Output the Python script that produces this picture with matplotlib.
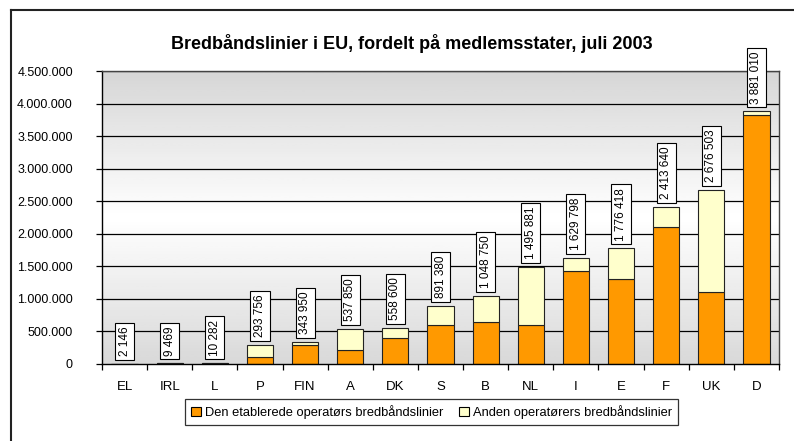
import matplotlib
matplotlib.use("Agg")
import matplotlib.pyplot as plt
import numpy as np
from matplotlib.lines import Line2D
from matplotlib.patches import Patch
from matplotlib.ticker import FuncFormatter, FixedLocator

plt.rcParams['font.family'] = ['Liberation Sans', 'DejaVu Sans']

countries = ["EL", "IRL", "L", "P", "FIN", "A", "DK", "S", "B", "NL", "I", "E", "F", "UK", "D"]
totals = [2146, 9469, 10282, 293756, 343950, 537850, 558600, 891380, 1048750,
          1495881, 1629798, 1776418, 2413640, 2676503, 3881010]
incumbent = [2000, 8000, 9000, 112000, 290000, 215000, 394000, 593000, 640000,
             595000, 1431000, 1299000, 2097000, 1100000, 3820000]
others = [t - i for t, i in zip(totals, incumbent)]

title = "Bredbåndslinier i EU, fordelt på medlemsstater, juli 2003"
legend_labels = ["Den etablerede operatørs bredbåndslinier", "Anden operatørers bredbåndslinier"]

W, H = 794, 441
fig = plt.figure(figsize=(W / 100, H / 100), dpi=100)
ax = fig.add_axes([102 / W, (H - 364) / H, (779 - 102) / W, (364 - 71) / H])

x = np.arange(len(countries))
ymax = 4500000
ax.set_xlim(-0.5, len(countries) - 0.5)
ax.set_ylim(0, ymax)

# gradient background gray-white-gray
grad = np.concatenate([np.linspace(0.84, 1.0, 50), np.linspace(1.0, 0.85, 50)]).reshape(-1, 1)
ax.imshow(grad, cmap='gray', vmin=0, vmax=1, aspect='auto',
          extent=[-0.5, len(countries) - 0.5, 0, ymax], origin='upper', zorder=0)

for yv in range(500000, ymax + 1, 500000):
    ax.axhline(yv, color='black', lw=0.9, zorder=1)

bw = 0.58
ax.bar(x, incumbent, bw, color='#FF9900', edgecolor='#222222', lw=0.8, zorder=2)
ax.bar(x, others, bw, bottom=incumbent, color='#FFFFCC', edgecolor='#222222', lw=0.8, zorder=2)

for xi, t in zip(x, totals):
    lab = f"{t:,}".replace(",", " ")
    ax.annotate(lab, (xi, t), xytext=(0, 5.5), textcoords='offset points',
                rotation=90, ha='center', va='bottom', fontsize=8.5,
                bbox=dict(boxstyle='square,pad=0.3', fc='white', ec='black', lw=0.8),
                annotation_clip=False, zorder=5)

ax.yaxis.set_major_locator(FixedLocator(range(0, ymax + 1, 500000)))
ax.yaxis.set_major_formatter(FuncFormatter(lambda v, p: f"{int(v):,}".replace(",", ".")))
ax.tick_params(axis='y', direction='out', length=4, width=0.9, pad=17, labelsize=9)

ax.set_xticks(x)
ax.set_xticklabels(countries, fontsize=9.5)
ax.set_xticks(np.arange(-0.5, len(countries), 1), minor=True)
ax.tick_params(axis='x', which='major', length=0, pad=12)
ax.tick_params(axis='x', which='minor', direction='out', length=4, width=0.9)

for s in ['left', 'bottom']:
    ax.spines[s].set_color('black')
    ax.spines[s].set_linewidth(1.0)
for s in ['top', 'right']:
    ax.spines[s].set_color('#444444')
    ax.spines[s].set_linewidth(1.0)

fig.text(412 / W, 1 - 49 / H, title, ha='center', va='baseline', fontsize=13, fontweight='bold')

handles = [Patch(fc='#FF9900', ec='black', lw=0.8), Patch(fc='#FFFFCC', ec='black', lw=0.8)]
leg = fig.legend(handles, legend_labels, loc='center', bbox_to_anchor=(431.5 / W, 1 - 412 / H),
                 ncol=2, fontsize=9.3, frameon=True, fancybox=False, shadow=False,
                 handlelength=0.8, handleheight=0.8, handletextpad=0.3, columnspacing=1.2,
                 borderpad=0.45, borderaxespad=0)
leg.get_frame().set_edgecolor('black')
leg.get_frame().set_linewidth(0.9)

# outer frame
fig.add_artist(Line2D([11 / W, 11 / W], [0, 1 - 10 / H], color='#222222', lw=1.5))
fig.add_artist(Line2D([11 / W, 1], [1 - 10 / H, 1 - 10 / H], color='#222222', lw=1.5))

fig.savefig("out.png", dpi=100)
